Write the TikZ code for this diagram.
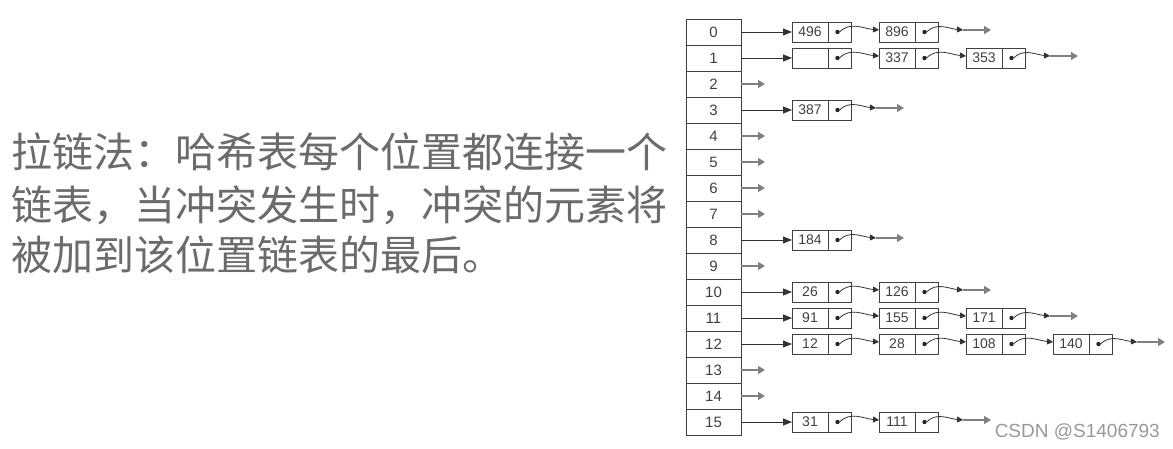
\documentclass[tikz,border=0pt]{standalone}
\usepackage{fontspec}
\setsansfont{Liberation Sans}
\newfontfamily\cjkfont{Noto Sans CJK SC}
\usetikzlibrary{arrows.meta,positioning}

\tikzset{
  slot/.style={draw=black!75, line width=0.8pt, minimum width=55pt, minimum height=26pt,
    inner sep=0pt, outer sep=0pt, font=\sffamily\fontsize{15}{15}\selectfont, text=black!75},
  val/.style={draw=black!75, line width=0.8pt, minimum width=36pt, minimum height=20pt,
    inner sep=0pt, outer sep=0pt, font=\sffamily\fontsize{14}{14}\selectfont, text=black!75},
  ptr/.style={draw=black!75, line width=0.8pt, minimum width=23pt, minimum height=20pt,
    inner sep=0pt, outer sep=0pt},
  head/.style={draw=black!80, line width=0.8pt, -{Triangle[length=9pt,width=7pt]}},
  nxt/.style={draw=black!80, line width=0.8pt, -{Triangle[length=6pt,width=6pt]}},
  nil/.style={draw=black!50, line width=1.4pt, -{Triangle[length=7pt,width=8pt]}},
  note/.style={anchor=west, inner sep=0pt, text=black!58, font=\cjkfont\fontsize{41}{41}\selectfont},
}

\begin{document}
\begin{tikzpicture}[x=1pt,y=-1pt]
  %%%%% START %%%%%
  \useasboundingbox[fill=white] (0,0) rectangle (1173,449);

  \node[note] (line1) at (11,152) {拉链法：哈希表每个位置都连接一个};
  \node[note] (line2) at (11,205) {链表，当冲突发生时，冲突的元素将};
  \node[note] (line3) at (11,255) {被加到该位置链表的最后。};

  \foreach \i in {0,...,15}
    \node[slot] (t\i) at (713.5,{32+26*\i}) {\i};

  % row 0
  \node[val] (v0a) at (810,32) {496};
  \node[ptr, right=0pt of v0a] (p0a) {};
  \node[val] (v0b) at (897,32) {896};
  \node[ptr, right=0pt of v0b] (p0b) {};
  \coordinate (e0) at ([xshift=25pt,yshift=2pt]p0b.east);
  \coordinate (z0) at ([xshift=28pt]e0);
  \draw[head] (t0) -- (v0a);
  \draw[nxt] (p0a.center) to[out=45,in=175] ([yshift=2pt]v0b.west);
  \draw[nxt] (p0b.center) to[out=45,in=175] (e0);
  \draw[nil] (e0) -- (z0);

  % row 1
  \node[val] (v1a) at (810,58) {};
  \node[ptr, right=0pt of v1a] (p1a) {};
  \node[val] (v1b) at (897,58) {337};
  \node[ptr, right=0pt of v1b] (p1b) {};
  \node[val] (v1c) at (984,58) {353};
  \node[ptr, right=0pt of v1c] (p1c) {};
  \coordinate (e1) at ([xshift=25pt,yshift=2pt]p1c.east);
  \coordinate (z1) at ([xshift=28pt]e1);
  \draw[head] (t1) -- (v1a);
  \draw[nxt] (p1a.center) to[out=45,in=175] ([yshift=2pt]v1b.west);
  \draw[nxt] (p1b.center) to[out=45,in=175] ([yshift=2pt]v1c.west);
  \draw[nxt] (p1c.center) to[out=45,in=175] (e1);
  \draw[nil] (e1) -- (z1);

  % row 3
  \node[val] (v3a) at (810,110) {387};
  \node[ptr, right=0pt of v3a] (p3a) {};
  \coordinate (e3) at ([xshift=25pt,yshift=2pt]p3a.east);
  \coordinate (z3) at ([xshift=28pt]e3);
  \draw[head] (t3) -- (v3a);
  \draw[nxt] (p3a.center) to[out=45,in=175] (e3);
  \draw[nil] (e3) -- (z3);

  % row 8
  \node[val] (v8a) at (810,240) {184};
  \node[ptr, right=0pt of v8a] (p8a) {};
  \coordinate (e8) at ([xshift=25pt,yshift=2pt]p8a.east);
  \coordinate (z8) at ([xshift=28pt]e8);
  \draw[head] (t8) -- (v8a);
  \draw[nxt] (p8a.center) to[out=45,in=175] (e8);
  \draw[nil] (e8) -- (z8);

  % row 10
  \node[val] (v10a) at (810,292) {26};
  \node[ptr, right=0pt of v10a] (p10a) {};
  \node[val] (v10b) at (897,292) {126};
  \node[ptr, right=0pt of v10b] (p10b) {};
  \coordinate (e10) at ([xshift=25pt,yshift=2pt]p10b.east);
  \coordinate (z10) at ([xshift=28pt]e10);
  \draw[head] (t10) -- (v10a);
  \draw[nxt] (p10a.center) to[out=45,in=175] ([yshift=2pt]v10b.west);
  \draw[nxt] (p10b.center) to[out=45,in=175] (e10);
  \draw[nil] (e10) -- (z10);

  % row 11
  \node[val] (v11a) at (810,318) {91};
  \node[ptr, right=0pt of v11a] (p11a) {};
  \node[val] (v11b) at (897,318) {155};
  \node[ptr, right=0pt of v11b] (p11b) {};
  \node[val] (v11c) at (984,318) {171};
  \node[ptr, right=0pt of v11c] (p11c) {};
  \coordinate (e11) at ([xshift=25pt,yshift=2pt]p11c.east);
  \coordinate (z11) at ([xshift=28pt]e11);
  \draw[head] (t11) -- (v11a);
  \draw[nxt] (p11a.center) to[out=45,in=175] ([yshift=2pt]v11b.west);
  \draw[nxt] (p11b.center) to[out=45,in=175] ([yshift=2pt]v11c.west);
  \draw[nxt] (p11c.center) to[out=45,in=175] (e11);
  \draw[nil] (e11) -- (z11);

  % row 12
  \node[val] (v12a) at (810,344) {12};
  \node[ptr, right=0pt of v12a] (p12a) {};
  \node[val] (v12b) at (897,344) {28};
  \node[ptr, right=0pt of v12b] (p12b) {};
  \node[val] (v12c) at (984,344) {108};
  \node[ptr, right=0pt of v12c] (p12c) {};
  \node[val] (v12d) at (1071,344) {140};
  \node[ptr, right=0pt of v12d] (p12d) {};
  \coordinate (e12) at ([xshift=25pt,yshift=2pt]p12d.east);
  \coordinate (z12) at ([xshift=28pt]e12);
  \draw[head] (t12) -- (v12a);
  \draw[nxt] (p12a.center) to[out=45,in=175] ([yshift=2pt]v12b.west);
  \draw[nxt] (p12b.center) to[out=45,in=175] ([yshift=2pt]v12c.west);
  \draw[nxt] (p12c.center) to[out=45,in=175] ([yshift=2pt]v12d.west);
  \draw[nxt] (p12d.center) to[out=45,in=175] (e12);
  \draw[nil] (e12) -- (z12);

  % row 15
  \node[val] (v15a) at (810,422) {31};
  \node[ptr, right=0pt of v15a] (p15a) {};
  \node[val] (v15b) at (897,422) {111};
  \node[ptr, right=0pt of v15b] (p15b) {};
  \coordinate (e15) at ([xshift=25pt,yshift=2pt]p15b.east);
  \coordinate (z15) at ([xshift=28pt]e15);
  \draw[head] (t15) -- (v15a);
  \draw[nxt] (p15a.center) to[out=45,in=175] ([yshift=2pt]v15b.west);
  \draw[nxt] (p15b.center) to[out=45,in=175] (e15);
  \draw[nil] (e15) -- (z15);

  % empty slots
  \foreach \i in {2,4,5,6,7,9,13,14} {
    \coordinate (z\i) at ([xshift=24pt]t\i.east);
    \draw[nil] (t\i) -- (z\i);
  }

  % pointer dots
  \foreach \p in {p0a,p0b,p1a,p1b,p1c,p3a,p8a,p10a,p10b,p11a,p11b,p11c,p12a,p12b,p12c,p12d,p15a,p15b}
    \fill[black!85] ([xshift=-2pt]\p.center) circle (2.2pt);

  \node[anchor=east, inner sep=0pt, text=black!40, font=\sffamily\fontsize{19}{19}\selectfont]
    (mark) at (1160,432) {CSDN @S1406793};
  %%%%% END %%%%%
\end{tikzpicture}
\end{document}
